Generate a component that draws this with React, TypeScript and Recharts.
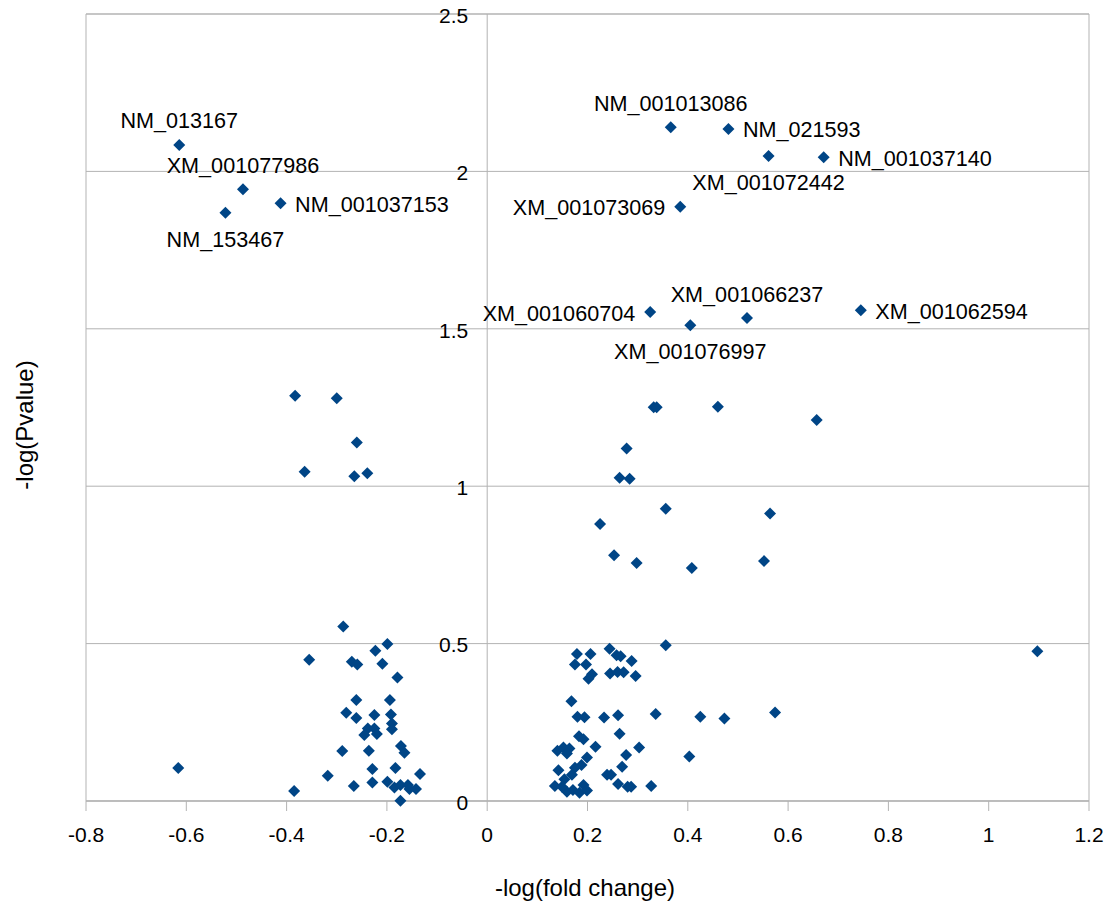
import React from "react";
import { ScatterChart, Scatter, XAxis, YAxis, CartesianGrid, ReferenceLine, ReferenceArea } from "recharts";

// labelled genes
const labeledNames = [
  "NM_013167", "XM_001077986", "NM_001037153", "NM_153467",
  "NM_001013086", "NM_021593", "XM_001072442", "NM_001037140", "XM_001073069",
  "XM_001060704", "XM_001076997", "XM_001066237", "XM_001062594",
];
const labeledFold = [-0.614, -0.487, -0.412, -0.522, 0.366, 0.481, 0.561, 0.671, 0.385, 0.325, 0.405, 0.518, 0.745];
const labeledPval = [2.084, 1.943, 1.899, 1.869, 2.140, 2.135, 2.049, 2.045, 1.888, 1.553, 1.511, 1.534, 1.559];

// the rest, left side (down-regulated)
const leftFold = [
  -0.383, -0.300, -0.260, -0.364, -0.265, -0.239,
  -0.287, -0.199, -0.223, -0.355, -0.270, -0.259, -0.209, -0.179, -0.261, -0.194,
  -0.281, -0.261, -0.225, -0.192, -0.190, -0.190, -0.238, -0.225, -0.245, -0.220,
  -0.289, -0.236, -0.172, -0.165, -0.229, -0.183, -0.318, -0.134, -0.266, -0.229,
  -0.199, -0.185, -0.173, -0.158, -0.155, -0.142, -0.385, -0.173, -0.616,
];
const leftPval = [
  1.287, 1.279, 1.139, 1.046, 1.032, 1.041,
  0.554, 0.499, 0.477, 0.449, 0.442, 0.434, 0.436, 0.392, 0.321, 0.321,
  0.280, 0.264, 0.273, 0.275, 0.246, 0.228, 0.230, 0.230, 0.210, 0.213,
  0.159, 0.160, 0.175, 0.153, 0.102, 0.105, 0.080, 0.086, 0.048, 0.059,
  0.061, 0.043, 0.051, 0.051, 0.038, 0.038, 0.032, 0.001, 0.105,
];

// the rest, right side (up-regulated)
const rightFold = [
  0.332, 0.338, 0.460, 0.657, 0.278, 0.264, 0.284, 0.356, 0.225, 0.564, 0.253, 0.298, 0.408, 0.552,
  0.356, 0.179, 0.206, 0.244, 0.258, 0.266, 0.288, 0.175, 0.197, 0.209, 0.202, 0.245, 0.260, 0.272,
  0.296, 0.168, 0.180, 0.194, 0.233, 0.261, 0.336, 0.425, 0.473, 0.574, 0.264, 0.183, 0.192, 0.216,
  0.303, 0.140, 0.152, 0.164, 0.159, 0.277, 0.403, 0.199, 0.188, 0.175, 0.269, 0.142, 0.169, 0.239,
  0.247, 0.154, 0.261, 0.135, 0.192, 0.280, 0.287, 0.327, 0.159, 0.171, 0.184, 0.199, 0.149, 1.097,
];
const rightPval = [
  1.251, 1.251, 1.252, 1.210, 1.120, 1.027, 1.024, 0.928, 0.880, 0.913, 0.781, 0.756, 0.740, 0.762,
  0.495, 0.467, 0.467, 0.484, 0.463, 0.460, 0.445, 0.434, 0.434, 0.403, 0.388, 0.405, 0.410, 0.409,
  0.397, 0.317, 0.268, 0.266, 0.265, 0.272, 0.276, 0.268, 0.262, 0.281, 0.214, 0.206, 0.196, 0.172,
  0.170, 0.160, 0.170, 0.167, 0.151, 0.146, 0.141, 0.138, 0.114, 0.106, 0.109, 0.098, 0.083, 0.083,
  0.083, 0.069, 0.054, 0.048, 0.051, 0.045, 0.045, 0.048, 0.029, 0.035, 0.026, 0.033, 0.045, 0.476,
];

const xTicks = [-0.8, -0.6, -0.4, -0.2, 0, 0.2, 0.4, 0.6, 0.8, 1, 1.2];
const yTicks = [0, 0.5, 1, 1.5, 2, 2.5];

// where each gene name sits relative to its point
const labelSide: Record<string, string> = {
  NM_013167: "top", XM_001077986: "top", NM_001037153: "right", NM_153467: "bottom",
  NM_001013086: "top", NM_021593: "right", XM_001072442: "bottom", NM_001037140: "right",
  XM_001073069: "left", XM_001060704: "left", XM_001076997: "bottom", XM_001066237: "top",
  XM_001062594: "right",
};

const W = 1110;
const H = 905;
const Y_AXIS_W = 86;
const X_AXIS_H = 104;
const MARGIN = { top: 14, right: 21, bottom: 0, left: 0 };
const PLOT_W = W - Y_AXIS_W - MARGIN.right;
// value axis crosses at fold change 0
const X_ZERO = Y_AXIS_W + ((0 - xTicks[0]) / (xTicks[xTicks.length - 1] - xTicks[0])) * PLOT_W;

const FONT = "'Liberation Sans', Arial, sans-serif";
const BLUE = "#004586";
const GRID = "#b3b3b3";

const labeled = labeledNames.map((name, i) => ({ name, x: labeledFold[i], y: labeledPval[i] }));
const others = [
  ...leftFold.map((x, i) => ({ x, y: leftPval[i] })),
  ...rightFold.map((x, i) => ({ x, y: rightPval[i] })),
];

function diamond(cx: number, cy: number) {
  const r = 6;
  return `${cx},${cy - r} ${cx + r},${cy} ${cx},${cy + r} ${cx - r},${cy}`;
}

const Dot = (props: any) => <polygon points={diamond(props.cx, props.cy)} fill={BLUE} />;

const LabeledDot = (props: any) => {
  const { cx, cy, payload } = props;
  const side = labelSide[payload.name];
  let tx = cx;
  let ty = cy + 8.5;
  let anchor = "middle";
  if (side === "top") ty = cy - 16.5;
  else if (side === "bottom") ty = cy + 34;
  else if (side === "left") { tx = cx - 15; anchor = "end"; }
  else { tx = cx + 14.5; anchor = "start"; }
  return (
    <g>
      <polygon points={diamond(cx, cy)} fill={BLUE} />
      <text x={tx} y={ty} textAnchor={anchor} fontSize={21.6} fontFamily={FONT} fill="#000">
        {payload.name}
      </text>
    </g>
  );
};

const YTick = (props: any) => (
  <text x={X_ZERO - 19} y={props.y} dy="0.42em" textAnchor="end" fontSize={21} fontFamily={FONT} fill="#000">
    {props.payload.value}
  </text>
);

export default function App() {
  return (
    <div style={{ position: "absolute", left: 0, top: 0, background: "#fff" }}>
      <ScatterChart width={W} height={H} margin={MARGIN}>
        <CartesianGrid vertical={false} stroke={GRID} />
        <ReferenceArea x1={-0.8} x2={1.2} y1={0} y2={2.5} fill="none" stroke={GRID} />
        <ReferenceLine x={0} stroke={GRID} />
        <XAxis
          type="number"
          dataKey="x"
          domain={[-0.8, 1.2]}
          ticks={xTicks}
          height={X_AXIS_H}
          interval={0}
          stroke={GRID}
          tickSize={10}
          tickMargin={16}
          tick={{ fontSize: 21, fill: "#000", fontFamily: FONT }}
          label={{
            content: () => (
              <text x={585} y={896} textAnchor="middle" fontSize={24} fontFamily={FONT} fill="#000">
                -log(fold change)
              </text>
            ),
          }}
        />
        <YAxis
          type="number"
          dataKey="y"
          domain={[0, 2.5]}
          ticks={yTicks}
          width={Y_AXIS_W}
          interval={0}
          axisLine={false}
          tickLine={false}
          tick={<YTick />}
          label={{
            content: () => (
              <text transform="translate(33, 425) rotate(-90)" textAnchor="middle" fontSize={24} fontFamily={FONT} fill="#000">
                -log(Pvalue)
              </text>
            ),
          }}
        />
        <Scatter data={others} shape={Dot} isAnimationActive={false} />
        <Scatter data={labeled} shape={LabeledDot} isAnimationActive={false} />
      </ScatterChart>
    </div>
  );
}
